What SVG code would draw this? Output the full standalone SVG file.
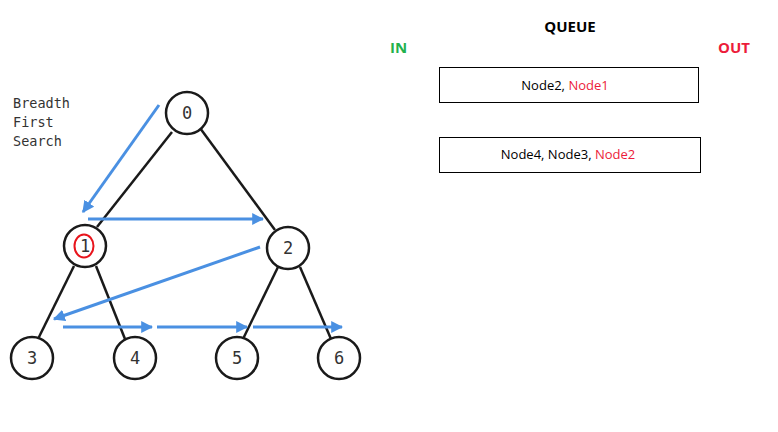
<svg xmlns="http://www.w3.org/2000/svg" width="778" height="432" viewBox="0 0 778 432">
<defs>
<style>
.edge{stroke:#1a1a1a;stroke-width:2.5;fill:none}
.flow{stroke:#4a90e2;stroke-width:3;fill:none}
.node circle{fill:#fff;stroke:#1a1a1a;stroke-width:2.5}
.node text{font-family:"DejaVu Sans Mono",monospace;font-size:17px;fill:#333;text-anchor:middle}
.side{font-family:"DejaVu Sans Mono",monospace;font-size:13.5px;fill:#333}
.box{fill:#fff;stroke:#000;stroke-width:1}
.qt{font-family:"Open Sans","Liberation Sans",sans-serif;font-size:13px;fill:#000;text-anchor:middle}
.hd{font-family:"Open Sans","Liberation Sans",sans-serif;font-weight:bold;font-size:15px}
.red{fill:#ec1c3a}
</style>
<marker id="ah" viewBox="0 0 10 10" refX="9" refY="5" markerWidth="4" markerHeight="4" orient="auto" markerUnits="strokeWidth">
<path d="M0,0 L10,5 L0,10 z" fill="#4a90e2"/>
</marker>
</defs>
<rect width="778" height="432" fill="#fff"/>
<g id="connectors">
<line class="edge" x1="172" y1="132" x2="97" y2="227"/>
<line class="edge" x1="200" y1="128" x2="275" y2="230"/>
<line class="edge" x1="74" y1="266" x2="38" y2="339"/>
<line class="edge" x1="96" y1="266" x2="125" y2="339"/>
<line class="edge" x1="278" y1="267" x2="243" y2="339"/>
<line class="edge" x1="300" y1="267" x2="331" y2="339"/>
</g>
<g id="flow-arrows">
<line class="flow" x1="159" y1="105" x2="83" y2="212" marker-end="url(#ah)"/>
<line class="flow" x1="88" y1="219" x2="263" y2="219" marker-end="url(#ah)"/>
<line class="flow" x1="260" y1="247" x2="54" y2="319" marker-end="url(#ah)"/>
<line class="flow" x1="63" y1="327" x2="152" y2="327" marker-end="url(#ah)"/>
<line class="flow" x1="157" y1="327" x2="247" y2="327" marker-end="url(#ah)"/>
<line class="flow" x1="253" y1="327" x2="342" y2="327" marker-end="url(#ah)"/>
</g>
<g id="node0" class="node"><circle cx="187" cy="113" r="21"/><text x="187" y="119">0</text></g>
<g id="node1" class="node"><circle cx="85" cy="246" r="21"/><text x="85" y="252">1</text>
<ellipse cx="84" cy="246" rx="9.5" ry="11.5" fill="none" stroke="#e8141c" stroke-width="2"/></g>
<g id="node2" class="node"><circle cx="288" cy="248" r="21"/><text x="288" y="254">2</text></g>
<g id="node3" class="node"><circle cx="32" cy="358" r="21"/><text x="32" y="364">3</text></g>
<g id="node4" class="node"><circle cx="135" cy="358" r="21"/><text x="135" y="364">4</text></g>
<g id="node5" class="node"><circle cx="237" cy="358" r="21"/><text x="237" y="364">5</text></g>
<g id="node6" class="node"><circle cx="339" cy="358" r="21"/><text x="339" y="364">6</text></g>
<g id="label">
<text class="side" x="13" y="108">Breadth</text>
<text class="side" x="13" y="127">First</text>
<text class="side" x="13" y="146">Search</text>
</g>
<g id="queue">
<text class="hd" x="570" y="32" text-anchor="middle" fill="#000">QUEUE</text>
<text class="hd" x="390" y="53" fill="#22b14c">IN</text>
<text class="hd" x="718" y="53" fill="#ec1c3a">OUT</text>
<rect class="box" x="439.5" y="67.5" width="259" height="35"/>
<text class="qt" x="565" y="90">Node2, <tspan class="red">Node1</tspan></text>
<rect class="box" x="439.5" y="137.5" width="261" height="35"/>
<text class="qt" x="568" y="159">Node4, Node3, <tspan class="red">Node2</tspan></text>
</g>
</svg>
